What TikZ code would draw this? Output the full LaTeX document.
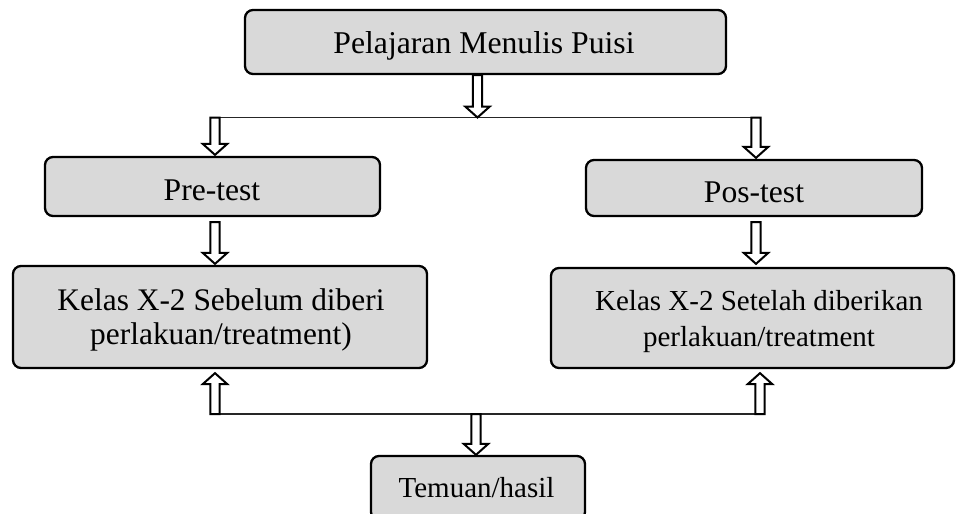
\documentclass[tikz,border=0pt]{standalone}
\usepackage{fontspec}
\setmainfont{Liberation Serif}
\usetikzlibrary{calc}
\definecolor{boxgrey}{HTML}{D9D9D9}
\newcommand{\fsz}[2]{\fontsize{#1}{#2}\selectfont}
\newcommand{\blockarr}[3]{%
  \draw[diagarrow] let \p1=#1, \p2=#2 in
   (\x1-4.6pt,\y1) -- (\x1+4.6pt,\y1) -- (\x1+4.6pt,\y2#311pt) -- (\x1+12.3pt,\y2#311pt)
   -- (\x1,\y2) -- (\x1-12.3pt,\y2#311pt) -- (\x1-4.6pt,\y2#311pt) -- cycle;}
\tikzset{
  diagbox/.style={draw=black, line width=2.3pt, fill=boxgrey, rounded corners=8pt, inner sep=0pt},
  diagtxt/.style={inner sep=0pt, anchor=base, align=center},
  diagline/.style={draw=black!85, line width=1.2pt},
  diagarrow/.style={draw=black, line width=2pt, fill=white, line join=miter},
}
\begin{document}
\begin{tikzpicture}[x=1pt,y=-1pt]
\useasboundingbox (0,0) rectangle (956,514);
% boxes
\node[diagbox, minimum width=481pt, minimum height=64pt] (top) at (485.5,42) {};
\node[diagbox, minimum width=335pt, minimum height=59pt] (pre) at (212.5,186.5) {};
\node[diagbox, minimum width=336pt, minimum height=56pt] (pos) at (754,188) {};
\node[diagbox, minimum width=414pt, minimum height=102pt] (kl) at (220,317) {};
\node[diagbox, minimum width=403pt, minimum height=100pt] (kr) at (752.5,318) {};
\node[diagbox, minimum width=214pt, minimum height=64pt] (tem) at (478,488) {};
% texts
\node[diagtxt, font=\fsz{31.7}{34}] (ttop) at (484,53) {Pelajaran Menulis Puisi};
\node[diagtxt, font=\fsz{31.6}{34}] (tpre) at (212,200) {Pre-test};
\node[diagtxt, font=\fsz{31.6}{34}] (tpos) at (754,202) {Pos-test};
\node[diagtxt, font=\fsz{31.4}{34}] (tkl) at (221,344) {Kelas X-2 Sebelum diberi\\perlakuan/treatment)};
\node[diagtxt, font=\fsz{29}{36}] (tkr) at (759,346) {Kelas X-2 Setelah diberikan\\perlakuan/treatment};
\node[diagtxt, font=\fsz{29}{34}] (ttem) at (476.5,497) {Temuan/hasil};
% junction coordinates
\coordinate (j1) at (477.5,117.5);
\coordinate (l1L) at (215,117.5);
\coordinate (l1R) at (756,117.5);
\coordinate (l2L) at (215,414);
\coordinate (l2R) at (760,414);
\coordinate (j2) at (476,414);
% connector lines
\draw[diagline] (l1L) -- (l1R);
\draw[diagline] (l2L) -- (l2R);
% block arrows
\blockarr{(top.south -| j1)}{(j1)}{+}
\blockarr{(l1L)}{($(pre.north -| l1L)+(0,-1)$)}{+}
\blockarr{(l1R)}{($(pos.north -| l1R)+(0,-1)$)}{+}
\blockarr{($(pre.south -| l1L)+(0,5)$)}{($(kl.north -| l1L)+(0,-1)$)}{+}
\blockarr{($(pos.south -| l1R)+(0,5)$)}{($(kr.north -| l1R)+(0,-3)$)}{+}
\blockarr{(l2L)}{($(kl.south -| l2L)+(0,4)$)}{-}
\blockarr{(l2R)}{($(kr.south -| l2R)+(0,4)$)}{-}
\blockarr{(j2)}{(tem.north -| j2)}{+}
\end{tikzpicture}
\end{document}
